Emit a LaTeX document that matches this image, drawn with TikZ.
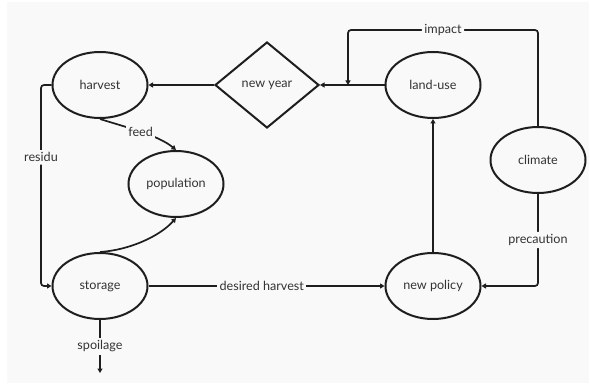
\documentclass[tikz,border=0pt]{standalone}
\usepackage{fontspec}
\setmainfont{Lato}
\usetikzlibrary{shapes.geometric,arrows.meta}
\definecolor{bg}{HTML}{F9F9F9}
\definecolor{ink}{HTML}{1E1E1E}
\definecolor{txt}{HTML}{333333}
\begin{document}
\begin{tikzpicture}[x=1pt,y=-1pt,
  every node/.style={font=\fontsize{12.6}{15}\selectfont, text=txt},
  oval/.style={ellipse, draw=ink, line width=2pt, minimum width=95pt, minimum height=66pt, inner sep=0pt},
  dia/.style={diamond, draw=ink, line width=2pt, minimum width=104pt, minimum height=86pt, inner sep=0pt},
  lab/.style={fill=bg, inner sep=2.5pt},
  arr/.style={draw=ink, line width=1.7pt, -{Triangle[length=4.5pt,width=5pt]}},
]
\useasboundingbox (0,0) rectangle (590,385);
\fill[bg] (7,2) rectangle (589,383);

\node[oval] (harvest) at (100,85) {harvest};
\node[dia] (newyear) at (267,85) {new year};
\node[oval] (landuse) at (433,85) {land-use};
\node[oval] (climate) at (538,160) {climate};
\node[oval] (population) at (176,184) {population};
\node[oval] (storage) at (100,286) {storage};
\node[oval] (policy) at (433,286) {new policy};
\coordinate (spoil) at (100,373);
\coordinate (impA) at (538,30);
\coordinate (impB) at (348,30);
\coordinate (impC) at (348,85);
\coordinate (resA) at (41,85);

\draw[arr] (newyear.west) -- (harvest.east);
\draw[arr] (landuse.west) -- (newyear.east);
\draw[arr, rounded corners=3pt] (climate.north) -- (impA) -- node[lab]{impact} (impB) -- (impC);
\draw[arr] (policy.north) -- (landuse.south);
\draw[arr, rounded corners=3pt] (climate.south) |- node[lab,pos=0.25]{precaution} (policy.east);
\draw[arr] (storage.east) -- node[lab,pos=0.48]{desired harvest} (policy.west);
\draw[arr, rounded corners=3pt] (harvest.west) -- (resA) |- node[lab,pos=0.18]{residu} (storage.west);
\draw[arr] (harvest.south) .. controls (125,127) and (158,135) .. node[lab]{feed} (population.north);
\draw[arr] (storage.north) .. controls (130,250) and (160,236) .. (population.south);
\draw[arr] (storage.south) -- node[lab]{spoilage} (spoil);
\end{tikzpicture}
\end{document}
